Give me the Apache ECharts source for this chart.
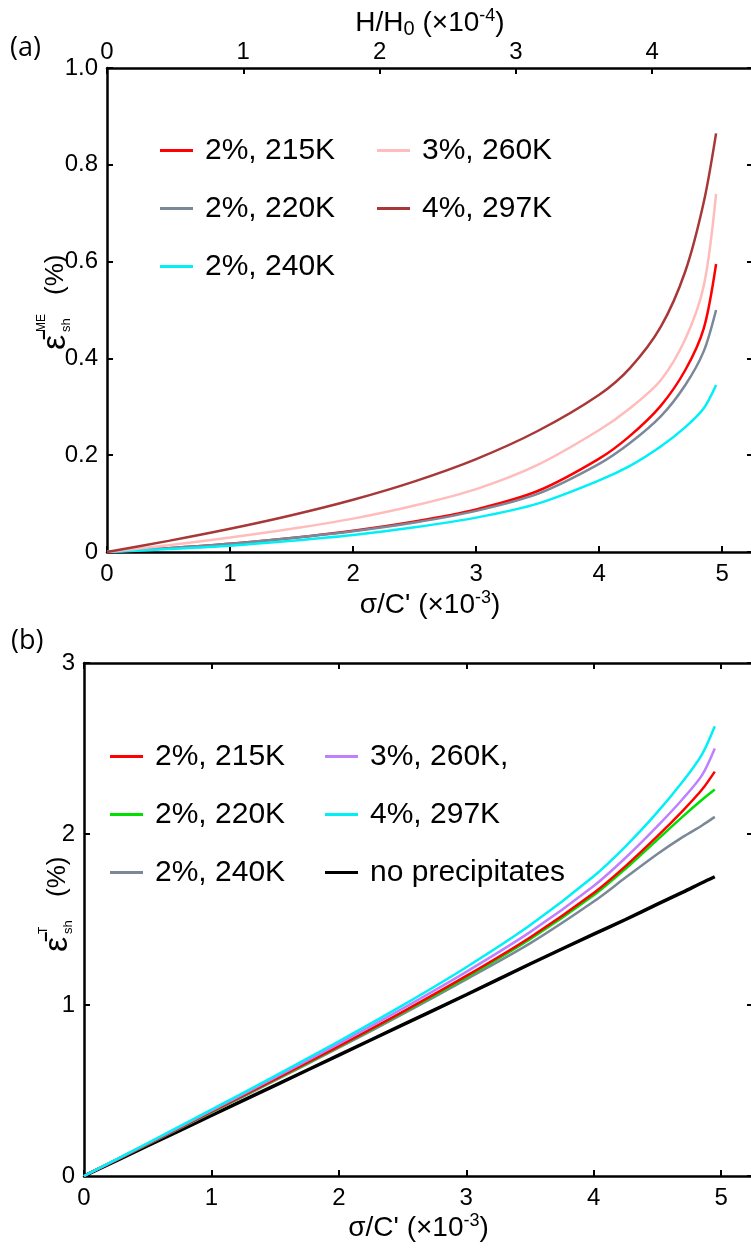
<!DOCTYPE html>
<html>
<head>
<meta charset="utf-8">
<script src="https://cdn.jsdelivr.net/npm/echarts@6/dist/echarts.min.js"></script>
<style>
html,body{margin:0;padding:0;background:#fff;}
#chart{width:751px;height:1249px;}
</style>
</head>
<body>
<div id="chart"></div>
<script>
// ---------- data ----------
const xs = [0, 0.5, 1, 1.5, 2, 2.5, 3, 3.5, 4, 4.25, 4.5, 4.7, 4.85, 4.95];

// panel (a): magnetoelastic shear strain (%)
const aNames = ['2%, 215K', '2%, 220K', '2%, 240K', '3%, 260K', '4%, 297K'];
const aColors = ['#ff0000', '#7a8898', '#00f0f8', '#ffbcbc', '#a83838'];
const a215 = [0, 0.008, 0.017, 0.029, 0.044, 0.063, 0.088, 0.126, 0.193, 0.240, 0.302, 0.376, 0.462, 0.595];
const a220 = [0, 0.008, 0.017, 0.029, 0.043, 0.061, 0.085, 0.120, 0.182, 0.225, 0.280, 0.345, 0.415, 0.500];
const a240 = [0, 0.006, 0.013, 0.023, 0.035, 0.051, 0.071, 0.100, 0.148, 0.178, 0.218, 0.258, 0.297, 0.345];
const a260 = [0, 0.014, 0.030, 0.048, 0.069, 0.096, 0.130, 0.180, 0.252, 0.297, 0.355, 0.440, 0.550, 0.740];
const a297 = [0, 0.023, 0.048, 0.076, 0.108, 0.146, 0.192, 0.250, 0.325, 0.380, 0.465, 0.580, 0.723, 0.865];

// panel (b): total shear strain (%)
const bNames = ['2%, 215K', '2%, 220K', '2%, 240K', '3%, 260K,', '4%, 297K', 'no precipitates'];
const bColors = ['#ff0000', '#00e000', '#7a8898', '#bf80ff', '#00f0f8', '#000000'];
const b215 = [0, 0.188, 0.376, 0.566, 0.760, 0.960, 1.170, 1.395, 1.655, 1.812, 1.987, 2.137, 2.260, 2.365];
const b220 = [0, 0.187, 0.374, 0.563, 0.756, 0.955, 1.162, 1.385, 1.642, 1.797, 1.967, 2.103, 2.200, 2.260];
const b240 = [0, 0.185, 0.371, 0.559, 0.750, 0.946, 1.150, 1.360, 1.605, 1.745, 1.883, 1.983, 2.050, 2.100];
const b260 = [0, 0.190, 0.382, 0.576, 0.774, 0.979, 1.194, 1.426, 1.696, 1.861, 2.046, 2.206, 2.344, 2.500];
const b297 = [0, 0.193, 0.388, 0.586, 0.788, 0.998, 1.221, 1.466, 1.753, 1.928, 2.128, 2.308, 2.466, 2.630];
const bNone = [0, 0.177, 0.354, 0.530, 0.707, 0.884, 1.060, 1.240, 1.414, 1.500, 1.590, 1.660, 1.715, 1.750];

const xTicks = [0, 1, 2, 3, 4, 5];
const hTicks = [0, 1, 2, 3, 4];

// ---------- chart ----------
const FONT = 'Liberation Sans, Arial, sans-serif';
const LBL = 24;
const chart = echarts.init(document.getElementById('chart'), null, {renderer: 'canvas'});
const pair = arr => xs.map((x, i) => [x, arr[i]]);

const axisLine = {show: true, onZero: false, lineStyle: {color: '#000', width: 2.5}};
const tickIn = {show: true, inside: true, length: 6, lineStyle: {color: '#000', width: 2}};

function xAxisBottom(grid, gap) {
  return {
    type: 'value', gridIndex: grid, position: 'bottom', min: 0, max: 5.25,
    axisLine, axisTick: Object.assign({customValues: xTicks}, tickIn),
    axisLabel: {customValues: xTicks, fontSize: LBL, color: '#000', fontFamily: FONT, margin: 10},
    splitLine: {show: false},
    name: '{t|σ/C\' (×10}{s|-3}{t|)}', nameLocation: 'middle', nameGap: gap,
    nameTextStyle: {rich: {
      t: {fontSize: 28, fontFamily: FONT, color: '#000', lineHeight: 32},
      s: {fontSize: 18, fontFamily: FONT, color: '#000', lineHeight: 17, verticalAlign: 'top'}
    }}
  };
}

const option = {
  animation: false,
  backgroundColor: '#fff',
  grid: [
    {left: 107, top: 68, right: -2, height: 484, outerBoundsMode: 'none', containLabel: false},
    {left: 84, top: 663, right: -2, height: 513, outerBoundsMode: 'none', containLabel: false}
  ],
  xAxis: [
    xAxisBottom(0, 37),
    {
      type: 'value', gridIndex: 0, position: 'top', min: 0, max: 4.74,
      axisLine, axisTick: Object.assign({customValues: hTicks}, tickIn),
      axisLabel: {customValues: hTicks, fontSize: LBL, color: '#000', fontFamily: FONT, margin: 4},
      splitLine: {show: false},
      name: '{t|H/H}{d|0}{t| (×10}{s|-4}{t|)}', nameLocation: 'middle', nameGap: 28,
      nameTextStyle: {rich: {
        t: {fontSize: 28, fontFamily: FONT, color: '#000', lineHeight: 32},
        d: {fontSize: 20, fontFamily: FONT, color: '#000', lineHeight: 19, verticalAlign: 'bottom'},
        s: {fontSize: 18, fontFamily: FONT, color: '#000', lineHeight: 17, verticalAlign: 'top'}
      }}
    },
    xAxisBottom(1, 36),
    {
      type: 'value', gridIndex: 1, position: 'top', min: 0, max: 5.25,
      axisLine, axisTick: Object.assign({customValues: xTicks}, tickIn),
      axisLabel: {show: false}, splitLine: {show: false}
    }
  ],
  yAxis: [
    {
      type: 'value', gridIndex: 0, position: 'left', min: 0, max: 1.0, interval: 0.2,
      axisLine, axisTick: tickIn,
      axisLabel: {fontSize: LBL, color: '#000', fontFamily: FONT, margin: 9,
        formatter: v => (v === 0 ? '0' : v.toFixed(1))},
      splitLine: {show: false}
    },
    {
      type: 'value', gridIndex: 0, position: 'right', min: 0, max: 1.0, interval: 0.2,
      axisLine, axisTick: tickIn, axisLabel: {show: false}, splitLine: {show: false}
    },
    {
      type: 'value', gridIndex: 1, position: 'left', min: 0, max: 3, interval: 1,
      axisLine, axisTick: tickIn,
      axisLabel: {fontSize: LBL, color: '#000', fontFamily: FONT, margin: 9},
      splitLine: {show: false}
    },
    {
      type: 'value', gridIndex: 1, position: 'right', min: 0, max: 3, interval: 1,
      axisLine, axisTick: tickIn, axisLabel: {show: false}, splitLine: {show: false}
    }
  ],
  legend: [
    mkLegend(['a|' + aNames[0], 'a|' + aNames[1], 'a|' + aNames[2]], 155, 130),
    mkLegend(['a|' + aNames[3], 'a|' + aNames[4]], 372, 130),
    mkLegend(['b|' + bNames[0], 'b|' + bNames[1], 'b|' + bNames[2]], 105, 736),
    mkLegend(['b|' + bNames[3], 'b|' + bNames[4], 'b|' + bNames[5]], 320, 736)
  ],
  series: [
    mkSeries('a|' + aNames[0], a215, aColors[0], 0, 0, 2.5),
    mkSeries('a|' + aNames[1], a220, aColors[1], 0, 0, 2.5),
    mkSeries('a|' + aNames[2], a240, aColors[2], 0, 0, 2.5),
    mkSeries('a|' + aNames[3], a260, aColors[3], 0, 0, 2.5),
    mkSeries('a|' + aNames[4], a297, aColors[4], 0, 0, 2.5),
    mkSeries('b|' + bNames[5], bNone, bColors[5], 2, 2, 3.5),
    mkSeries('b|' + bNames[2], b240, bColors[2], 2, 2, 2.5),
    mkSeries('b|' + bNames[1], b220, bColors[1], 2, 2, 2.5),
    mkSeries('b|' + bNames[0], b215, bColors[0], 2, 2, 2.5),
    mkSeries('b|' + bNames[3], b260, bColors[3], 2, 2, 2.5),
    mkSeries('b|' + bNames[4], b297, bColors[4], 2, 2, 2.5)
  ],
  graphic: [
    {type: 'text', left: 10, top: 35, style: {text: '(a)', font: '27px "Open Sans", sans-serif', fill: '#000'}},
    {type: 'text', left: 11, top: 628, style: {text: '(b)', font: '27px "Open Sans", sans-serif', fill: '#000'}},
    yTitle('ME', 56, 350),
    yTitle('T', 58, 952)
  ]
};

function mkLegend(data, left, top) {
  return {
    data, left, top, orient: 'vertical', itemGap: 27, itemWidth: 33, itemHeight: 3,
    icon: 'rect', selectedMode: false,
    formatter: n => n.split('|')[1],
    textStyle: {fontSize: 30, fontFamily: FONT, color: '#000', lineHeight: 31, padding: [0, 0, 0, 7]}
  };
}

function mkSeries(name, arr, color, xi, yi, w) {
  return {
    name, type: 'line', xAxisIndex: xi, yAxisIndex: yi, data: pair(arr),
    showSymbol: false, symbol: 'none', smooth: 0.3,
    lineStyle: {color, width: w}, itemStyle: {color}, z: 3
  };
}

function yTitle(sup, x, y) {
  return {
    type: 'group', x, y, rotation: Math.PI / 2,
    children: [
      {type: 'text', x: 0, y: 0, style: {text: 'ε̄', font: '34px ' + FONT, fill: '#000', verticalAlign: 'middle', align: 'left'}},
      {type: 'text', x: 18, y: -14, style: {text: sup, font: '12px ' + FONT, fill: '#000', verticalAlign: 'middle', align: 'left'}},
      {type: 'text', x: 18, y: 10, style: {text: 'sh', font: '13px ' + FONT, fill: '#000', verticalAlign: 'middle', align: 'left'}},
      {type: 'text', x: 55, y: 0, style: {text: '(%)', font: '26px ' + FONT, fill: '#000', verticalAlign: 'middle', align: 'left'}}
    ]
  };
}

chart.setOption(option);
</script>
</body>
</html>
